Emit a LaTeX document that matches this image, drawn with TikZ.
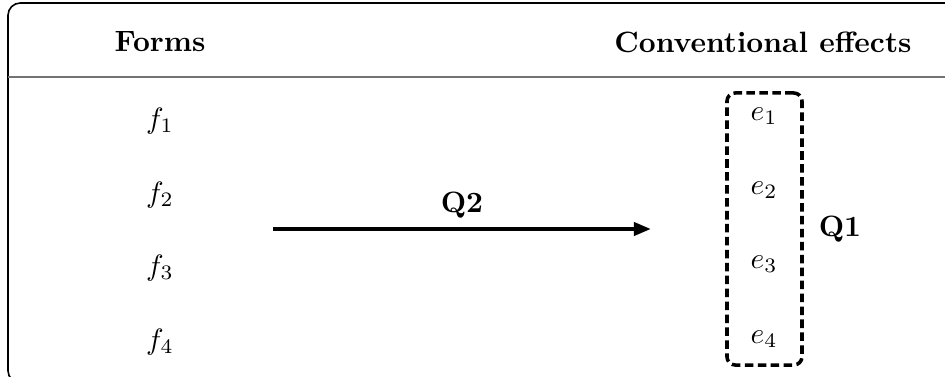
\documentclass[tikz,border=0pt]{standalone}
\usetikzlibrary{arrows.meta}
\begin{document}
\begin{tikzpicture}[x=0.34pt,y=-0.34pt,
  lbl/.style={inner sep=0pt,font=\normalsize},
  hdr/.style={inner sep=0pt,font=\bfseries},
  frame/.style={draw=black,line width=0.55pt,rounded corners=4.2pt},
  rule/.style={draw=black!55,line width=0.9pt},
  grp/.style={draw=black,line width=1.2pt,dash pattern=on 2.9pt off 1.5pt,rounded corners=2.8pt,minimum width=25.5pt,minimum height=92.5pt,inner sep=0pt},
  conn/.style={line width=1.35pt,-{Triangle[length=5.8pt,width=4.4pt]}}]
\useasboundingbox (0,0) rectangle (945,377);
\clip (0,0) rectangle (945,377);
\draw[frame] (8,3) rectangle (970,383);
\draw[rule] (8,77) -- (945,77);
\node[hdr] (hf) at (160,42) {Forms};
\node[hdr] (he) at (763,42) {Conventional effects};
\node[lbl] (f1) at (160,121) {$f_1$};
\node[lbl] (f2) at (160,195) {$f_2$};
\node[lbl] (f3) at (160,268) {$f_3$};
\node[lbl] (f4) at (160,342) {$f_4$};
\node[lbl] (e1) at (764,116) {$e_1$};
\node[lbl] (e2) at (764,190) {$e_2$};
\node[lbl] (e3) at (764,264) {$e_3$};
\node[lbl] (e4) at (764,339) {$e_4$};
\node[grp] (box) at (764.5,229) {};
\node[hdr] (q1) at (840,229) {Q1};
\coordinate (as) at (273,229);
\coordinate (ae) at (651,229);
\draw[conn] (as) -- (ae);
\node[hdr] (q2) at (462,205) {Q2};
\end{tikzpicture}
\end{document}
